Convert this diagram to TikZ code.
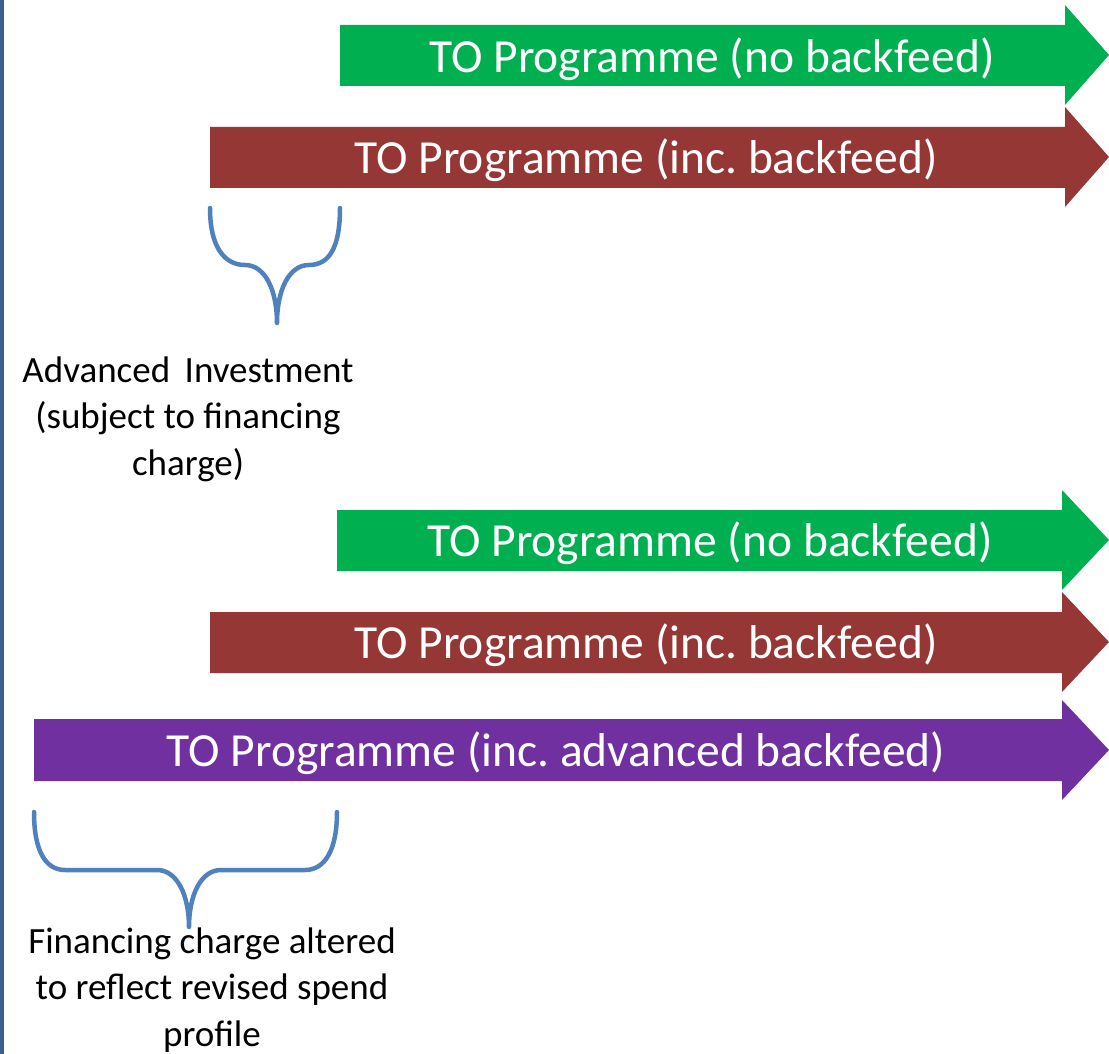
\documentclass[tikz,border=0pt]{standalone}
\usepackage{fontspec}
\setmainfont{Carlito}
\frenchspacing
\definecolor{tgreen}{HTML}{00B050}
\definecolor{tbrown}{HTML}{953735}
\definecolor{tpurple}{HTML}{7030A0}
\definecolor{bracecol}{HTML}{4F81BD}
\definecolor{edgecol}{HTML}{3B5E8C}
\tikzset{
  arrowtext/.style={text=white, font=\fontsize{47.5}{56}\selectfont, inner sep=0pt, anchor=center},
  labeltext/.style={text=black, font=\fontsize{37}{46.5}\selectfont, align=center, inner sep=0pt, anchor=center},
  bracestyle/.style={draw=bracecol, line width=4.5pt, line cap=round, line join=round},
}
\begin{document}
\begin{tikzpicture}[x=1pt,y=-1pt]
\useasboundingbox (0,0) rectangle (1109,1054);
\fill[white] (0,0) rectangle (1109,1054);
% left edge
\fill[edgecol] (0,0) rectangle (4,1054);
% arrows
\fill[tgreen] (340,25) -- (1065,25) -- (1065,5) -- (1109,55) -- (1065,105) -- (1065,86) -- (340,86) -- cycle;
\node[arrowtext] (g1) at (712,59) {TO Programme (no backfeed)};
\fill[tbrown] (210,127) -- (1065,127) -- (1065,107) -- (1109,157) -- (1065,207) -- (1065,188) -- (210,188) -- cycle;
\node[arrowtext] (b1) at (646,160) {TO Programme (inc. backfeed)};
\fill[tgreen] (337,510) -- (1062,510) -- (1062,490) -- (1109,540) -- (1062,590) -- (1062,571) -- (337,571) -- cycle;
\node[arrowtext] (g2) at (710,543) {TO Programme (no backfeed)};
\fill[tbrown] (210,612) -- (1062,612) -- (1062,592) -- (1109,642) -- (1062,692) -- (1062,673) -- (210,673) -- cycle;
\node[arrowtext] (b2) at (646,645) {TO Programme (inc. backfeed)};
\fill[tpurple] (34,719) -- (1062,719) -- (1062,700) -- (1109,750) -- (1062,800) -- (1062,781) -- (34,781) -- cycle;
\node[arrowtext] (p1) at (556,753) {TO Programme (inc. advanced backfeed)};
% brace 1
\draw[bracestyle] (210,208) .. controls (210,248) and (225,265) .. (245,265)
  .. controls (265,265) and (277,290) .. (277,323)
  .. controls (277,290) and (289,265) .. (309,265)
  .. controls (329,265) and (340,248) .. (340,208);
\node[labeltext] (l1) at (188,419) {Advanced\, Investment\\(subject to financing\\charge)};
% brace 2
\draw[bracestyle] (34,812) .. controls (34,850) and (45,870) .. (65,870)
  -- (157,870) .. controls (177,870) and (189,895) .. (189,927)
  .. controls (189,895) and (201,870) .. (221,870)
  -- (305,870) .. controls (325,870) and (337,850) .. (337,812);
\node[labeltext] (l2) at (212,990) {Financing charge altered\\to reflect revised spend\\profile};
\end{tikzpicture}
\end{document}
